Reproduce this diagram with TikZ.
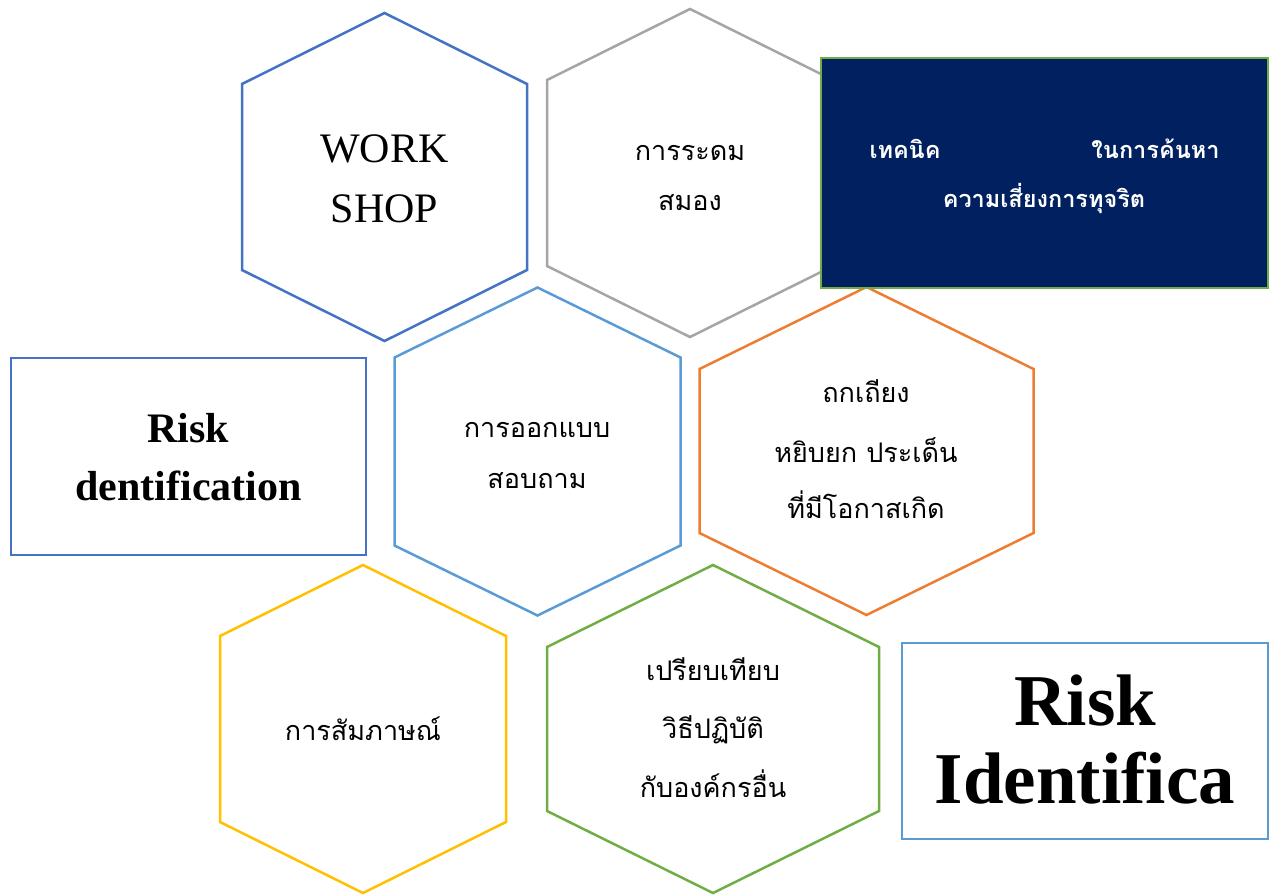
\documentclass[tikz,border=0pt]{standalone}
\usepackage{fontspec}
\setmainfont{Liberation Serif}
\newfontfamily\thaifont[Script=Thai]{Loma}
\usepackage{tikz}

\definecolor{hexblue}{HTML}{4472C4}
\definecolor{hexgray}{HTML}{A5A5A5}
\definecolor{hexsky}{HTML}{5B9BD5}
\definecolor{hexorange}{HTML}{ED7D31}
\definecolor{hexyellow}{HTML}{FFC000}
\definecolor{hexgreen}{HTML}{70AD47}
\definecolor{navy}{HTML}{002060}

% centre x, centre y, half width, corner drop, colour
\newcommand{\hexcell}[5]{%
\draw[#5,line width=2.5pt] (#1,#2-164) -- (#1-#3,#2-164+#4) -- (#1-#3,#2+164-#4)
  -- (#1,#2+164) -- (#1+#3,#2+164-#4) -- (#1+#3,#2-164+#4) -- cycle;}

\begin{document}
\begin{tikzpicture}[x=1pt,y=-1pt,
  thai/.style={anchor=base,inner sep=0pt,font=\thaifont\fontsize{27}{33}\selectfont},
  thaibold/.style={thai,text=white,font=\thaifont\bfseries\fontsize{23.5}{29}\selectfont},
  latin/.style={anchor=base,inner sep=0pt,font=\fontsize{42}{50}\selectfont}]
\useasboundingbox (0,0) rectangle (1273,894);
\hexcell{384.5}{177}{142.5}{71}{hexblue}
\hexcell{690}{173}{143}{71}{hexgray}
\hexcell{537.5}{451.5}{143}{70}{hexsky}
\hexcell{866.5}{451}{167}{82}{hexorange}
\hexcell{363}{729}{143}{71}{hexyellow}
\hexcell{713}{729}{166}{82}{hexgreen}
\draw[hexgreen,line width=2.5pt,fill=navy] (821,58) rectangle (1268,288);
\draw[hexblue,line width=2.5pt] (11,358) rectangle (366,555);
\draw[hexsky,line width=2.5pt] (902,643) rectangle (1268,839);

\node[latin] (work) at (384.5,162) {WORK};
\node[latin] (shop) at (384.5,222) {SHOP};
\node[thai] (brain1) at (690,160) {การระดม};
\node[thai] (brain2) at (690,210) {สมอง};
\node[thaibold] (tech1) at (905,158) {เทคนิค};
\node[thaibold] (tech2) at (1155.5,158) {ในการค้นหา};
\node[thaibold] (tech3) at (1044,207) {ความเสี่ยงการทุจริต};
\node[latin,font=\bfseries\fontsize{42}{50}\selectfont] (risk1) at (188.5,442) {Risk};
\node[latin,font=\bfseries\fontsize{42}{50}\selectfont] (risk2) at (188.5,500) {dentification};
\node[thai] (quest1) at (537,437) {การออกแบบ};
\node[thai] (quest2) at (537,488) {สอบถาม};
\node[thai] (debate1) at (866,402) {ถกเถียง};
\node[thai] (debate2) at (866,462) {หยิบยก ประเด็น};
\node[thai] (debate3) at (866,518) {ที่มีโอกาสเกิด};
\node[thai] (talk) at (363,740) {การสัมภาษณ์};
\node[thai] (bench1) at (713,680) {เปรียบเทียบ};
\node[thai] (bench2) at (713,738) {วิธีปฏิบัติ};
\node[thai] (bench3) at (713,797) {กับองค์กรอื่น};
\node[latin,font=\bfseries\fontsize{73}{80}\selectfont] (big1) at (1085,725) {Risk};
\node[latin,font=\bfseries\fontsize{73}{80}\selectfont] (big2) at (1085,803) {Identifica};
\end{tikzpicture}
\end{document}
